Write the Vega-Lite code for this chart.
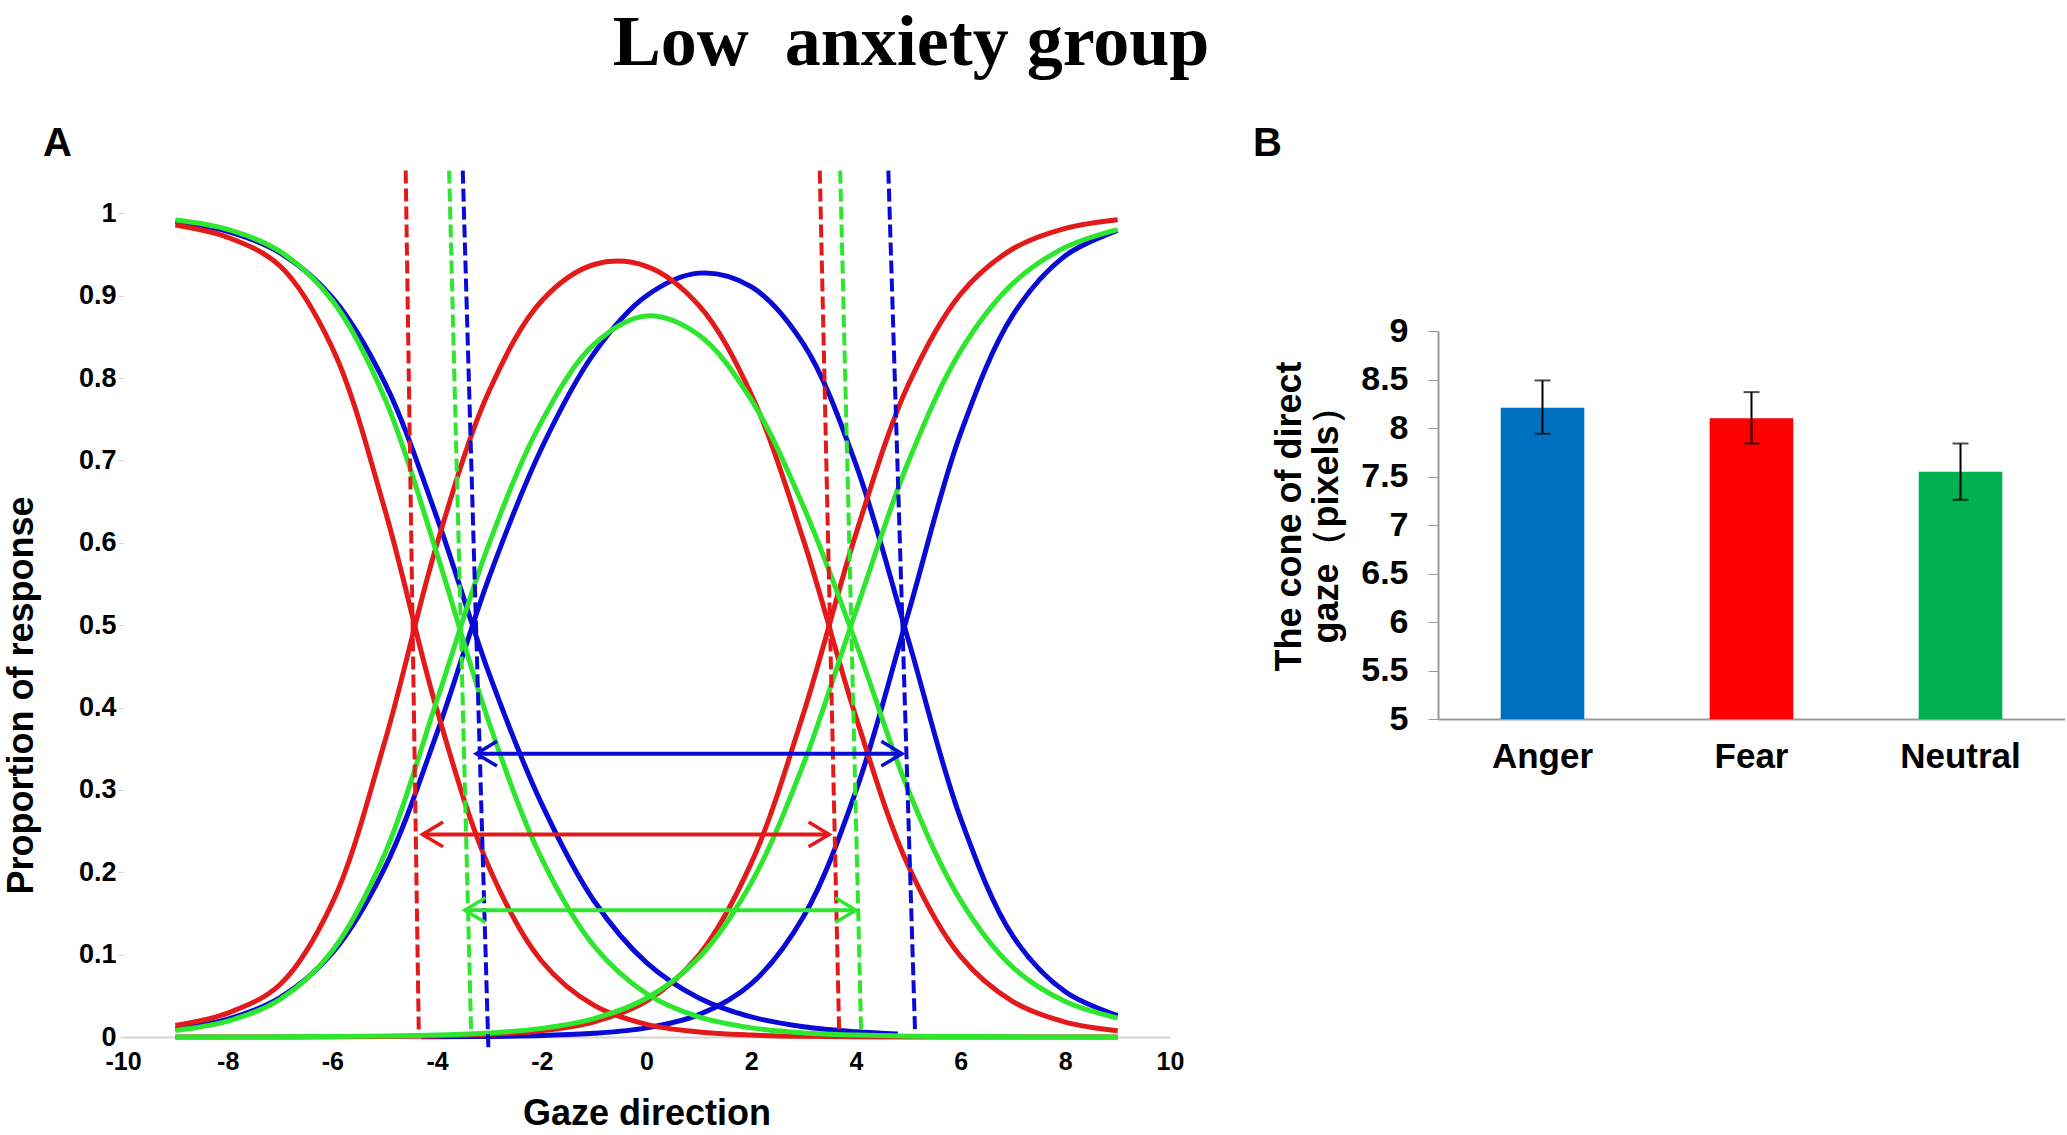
{
  "$schema": "https://vega.github.io/schema/vega-lite/v6.json",
  "background": "white",
  "padding": {"left": 3, "top": 7, "right": 0, "bottom": 0},
  "title": {"text": "Low\u00a0 anxiety group", "font": "Liberation Serif", "fontWeight": "bold", "fontSize": 72, "anchor": "middle", "dx": -123, "baseline": "alphabetic", "offset": -13, "color": "#000"},
  "config": {
    "view": {"stroke": null},
    "axis": {"grid": false, "labelFont": "Liberation Sans", "titleFont": "Liberation Sans", "labelFontWeight": "bold", "titleFontWeight": "bold", "labelColor": "#000", "titleColor": "#000"}
  },
  "resolve": {"scale": {"color": "independent"}},
  "spacing": 69,
  "datasets": {
    "curves": [
      {"e":"Anger","c":"AL","x":-9,"y":0.9903},{"e":"Anger","c":"AL","x":-8,"y":0.9783},{"e":"Anger","c":"AL","x":-7,"y":0.9522},{"e":"Anger","c":"AL","x":-6,"y":0.8978},{"e":"Anger","c":"AL","x":-5,"y":0.7945},{"e":"Anger","c":"AL","x":-4,"y":0.6301},{"e":"Anger","c":"AL","x":-3,"y":0.44},{"e":"Anger","c":"AL","x":-2,"y":0.2827},{"e":"Anger","c":"AL","x":-1,"y":0.1651},{"e":"Anger","c":"AL","x":0,"y":0.0903},{"e":"Anger","c":"AL","x":1,"y":0.0474},{"e":"Anger","c":"AL","x":2,"y":0.0244},{"e":"Anger","c":"AL","x":3,"y":0.0124},{"e":"Anger","c":"AL","x":4,"y":0.0063},{"e":"Anger","c":"AL","x":4.8,"y":0.0036},
      {"e":"Anger","c":"AR","x":-4.3,"y":0.0002},{"e":"Anger","c":"AR","x":-4,"y":0.0003},{"e":"Anger","c":"AR","x":-3,"y":0.0007},{"e":"Anger","c":"AR","x":-2,"y":0.0018},{"e":"Anger","c":"AR","x":-1,"y":0.0045},{"e":"Anger","c":"AR","x":0,"y":0.0111},{"e":"Anger","c":"AR","x":1,"y":0.0271},{"e":"Anger","c":"AR","x":2,"y":0.0646},{"e":"Anger","c":"AR","x":3,"y":0.1463},{"e":"Anger","c":"AR","x":4,"y":0.2985},{"e":"Anger","c":"AR","x":5,"y":0.5143},{"e":"Anger","c":"AR","x":6,"y":0.7329},{"e":"Anger","c":"AR","x":7,"y":0.8767},{"e":"Anger","c":"AR","x":8,"y":0.9486},{"e":"Anger","c":"AR","x":9,"y":0.9795},
      {"e":"Anger","c":"AD","x":-9,"y":0.0097},{"e":"Anger","c":"AD","x":-8,"y":0.0217},{"e":"Anger","c":"AD","x":-7,"y":0.0478},{"e":"Anger","c":"AD","x":-6,"y":0.1021},{"e":"Anger","c":"AD","x":-5,"y":0.2054},{"e":"Anger","c":"AD","x":-4,"y":0.3696},{"e":"Anger","c":"AD","x":-3,"y":0.5593},{"e":"Anger","c":"AD","x":-2,"y":0.7155},{"e":"Anger","c":"AD","x":-1,"y":0.8304},{"e":"Anger","c":"AD","x":0,"y":0.9},{"e":"Anger","c":"AD","x":1,"y":0.9275},{"e":"Anger","c":"AD","x":2,"y":0.911},{"e":"Anger","c":"AD","x":3,"y":0.8413},{"e":"Anger","c":"AD","x":4,"y":0.6952},{"e":"Anger","c":"AD","x":5,"y":0.4825},{"e":"Anger","c":"AD","x":6,"y":0.2655},{"e":"Anger","c":"AD","x":7,"y":0.1225},{"e":"Anger","c":"AD","x":8,"y":0.055},{"e":"Anger","c":"AD","x":9,"y":0.026},
      {"e":"Fear","c":"FL","x":-9,"y":0.986},{"e":"Fear","c":"FL","x":-8,"y":0.971},{"e":"Fear","c":"FL","x":-7,"y":0.9361},{"e":"Fear","c":"FL","x":-6,"y":0.8365},{"e":"Fear","c":"FL","x":-5,"y":0.6408},{"e":"Fear","c":"FL","x":-4,"y":0.3964},{"e":"Fear","c":"FL","x":-3,"y":0.205},{"e":"Fear","c":"FL","x":-2,"y":0.092},{"e":"Fear","c":"FL","x":-1,"y":0.0383},{"e":"Fear","c":"FL","x":0,"y":0.0154},{"e":"Fear","c":"FL","x":1,"y":0.0061},{"e":"Fear","c":"FL","x":2,"y":0.0024},{"e":"Fear","c":"FL","x":3,"y":0.0009},{"e":"Fear","c":"FL","x":4,"y":0.0004},{"e":"Fear","c":"FL","x":5,"y":0.0001},{"e":"Fear","c":"FL","x":6,"y":0},{"e":"Fear","c":"FL","x":7,"y":0},{"e":"Fear","c":"FL","x":8,"y":0},{"e":"Fear","c":"FL","x":9,"y":0},
      {"e":"Fear","c":"FR","x":-9,"y":0},{"e":"Fear","c":"FR","x":-8,"y":0},{"e":"Fear","c":"FR","x":-7,"y":0.0001},{"e":"Fear","c":"FR","x":-6,"y":0.0002},{"e":"Fear","c":"FR","x":-5,"y":0.0005},{"e":"Fear","c":"FR","x":-4,"y":0.0013},{"e":"Fear","c":"FR","x":-3,"y":0.0032},{"e":"Fear","c":"FR","x":-2,"y":0.0077},{"e":"Fear","c":"FR","x":-1,"y":0.0185},{"e":"Fear","c":"FR","x":0,"y":0.0436},{"e":"Fear","c":"FR","x":1,"y":0.0994},{"e":"Fear","c":"FR","x":2,"y":0.2111},{"e":"Fear","c":"FR","x":3,"y":0.3932},{"e":"Fear","c":"FR","x":4,"y":0.6109},{"e":"Fear","c":"FR","x":5,"y":0.7919},{"e":"Fear","c":"FR","x":6,"y":0.9021},{"e":"Fear","c":"FR","x":7,"y":0.9571},{"e":"Fear","c":"FR","x":8,"y":0.9819},{"e":"Fear","c":"FR","x":9,"y":0.9924},
      {"e":"Fear","c":"FD","x":-9,"y":0.014},{"e":"Fear","c":"FD","x":-8,"y":0.029},{"e":"Fear","c":"FD","x":-7,"y":0.0638},{"e":"Fear","c":"FD","x":-6,"y":0.1632},{"e":"Fear","c":"FD","x":-5,"y":0.3585},{"e":"Fear","c":"FD","x":-4,"y":0.5993},{"e":"Fear","c":"FD","x":-3,"y":0.7852},{"e":"Fear","c":"FD","x":-2,"y":0.894},{"e":"Fear","c":"FD","x":-1,"y":0.938},{"e":"Fear","c":"FD","x":0,"y":0.9358},{"e":"Fear","c":"FD","x":1,"y":0.8884},{"e":"Fear","c":"FD","x":2,"y":0.7804},{"e":"Fear","c":"FD","x":3,"y":0.603},{"e":"Fear","c":"FD","x":4,"y":0.3887},{"e":"Fear","c":"FD","x":5,"y":0.2079},{"e":"Fear","c":"FD","x":6,"y":0.0978},{"e":"Fear","c":"FD","x":7,"y":0.0429},{"e":"Fear","c":"FD","x":8,"y":0.0181},{"e":"Fear","c":"FD","x":9,"y":0.0076},
      {"e":"Neutral","c":"NL","x":-9,"y":0.9919},{"e":"Neutral","c":"NL","x":-8,"y":0.9805},{"e":"Neutral","c":"NL","x":-7,"y":0.9538},{"e":"Neutral","c":"NL","x":-6,"y":0.8941},{"e":"Neutral","c":"NL","x":-5,"y":0.7757},{"e":"Neutral","c":"NL","x":-4,"y":0.5862},{"e":"Neutral","c":"NL","x":-3,"y":0.3804},{"e":"Neutral","c":"NL","x":-2,"y":0.2162},{"e":"Neutral","c":"NL","x":-1,"y":0.1103},{"e":"Neutral","c":"NL","x":0,"y":0.0527},{"e":"Neutral","c":"NL","x":1,"y":0.0244},{"e":"Neutral","c":"NL","x":2,"y":0.0111},{"e":"Neutral","c":"NL","x":3,"y":0.005},{"e":"Neutral","c":"NL","x":4,"y":0.0023},{"e":"Neutral","c":"NL","x":5,"y":0.001},{"e":"Neutral","c":"NL","x":6,"y":0.0005},{"e":"Neutral","c":"NL","x":7,"y":0.0002},{"e":"Neutral","c":"NL","x":8,"y":0.0001},{"e":"Neutral","c":"NL","x":9,"y":0},
      {"e":"Neutral","c":"NR","x":-9,"y":0},{"e":"Neutral","c":"NR","x":-8,"y":0.0001},{"e":"Neutral","c":"NR","x":-7,"y":0.0002},{"e":"Neutral","c":"NR","x":-6,"y":0.0005},{"e":"Neutral","c":"NR","x":-5,"y":0.0011},{"e":"Neutral","c":"NR","x":-4,"y":0.0023},{"e":"Neutral","c":"NR","x":-3,"y":0.0049},{"e":"Neutral","c":"NR","x":-2,"y":0.0105},{"e":"Neutral","c":"NR","x":-1,"y":0.0224},{"e":"Neutral","c":"NR","x":0,"y":0.0471},{"e":"Neutral","c":"NR","x":1,"y":0.0963},{"e":"Neutral","c":"NR","x":2,"y":0.1871},{"e":"Neutral","c":"NR","x":3,"y":0.3318},{"e":"Neutral","c":"NR","x":4,"y":0.5173},{"e":"Neutral","c":"NR","x":5,"y":0.6981},{"e":"Neutral","c":"NR","x":6,"y":0.8331},{"e":"Neutral","c":"NR","x":7,"y":0.915},{"e":"Neutral","c":"NR","x":8,"y":0.9588},{"e":"Neutral","c":"NR","x":9,"y":0.9804},
      {"e":"Neutral","c":"ND","x":-9,"y":0.008},{"e":"Neutral","c":"ND","x":-8,"y":0.0192},{"e":"Neutral","c":"ND","x":-7,"y":0.0457},{"e":"Neutral","c":"ND","x":-6,"y":0.1048},{"e":"Neutral","c":"ND","x":-5,"y":0.2222},{"e":"Neutral","c":"ND","x":-4,"y":0.4095},{"e":"Neutral","c":"ND","x":-3,"y":0.6003},{"e":"Neutral","c":"ND","x":-2,"y":0.7478},{"e":"Neutral","c":"ND","x":-1,"y":0.8412},{"e":"Neutral","c":"ND","x":0,"y":0.8755},{"e":"Neutral","c":"ND","x":1,"y":0.8523},{"e":"Neutral","c":"ND","x":2,"y":0.7738},{"e":"Neutral","c":"ND","x":3,"y":0.6438},{"e":"Neutral","c":"ND","x":4,"y":0.4787},{"e":"Neutral","c":"ND","x":5,"y":0.2999},{"e":"Neutral","c":"ND","x":6,"y":0.1659},{"e":"Neutral","c":"ND","x":7,"y":0.0845},{"e":"Neutral","c":"ND","x":8,"y":0.043},{"e":"Neutral","c":"ND","x":9,"y":0.023}
    ],
    "bounds": [
      {"e":"Fear","x":-4.6,"xb":-4.35,"y":1.052,"yb":0.006},
      {"e":"Fear","x":3.31,"xb":3.68,"y":1.052,"yb":0.006},
      {"e":"Neutral","x":-3.77,"xb":-3.35,"y":1.052,"yb":0.006},
      {"e":"Neutral","x":3.7,"xb":4.1,"y":1.052,"yb":0.006},
      {"e":"Anger","x":-3.51,"xb":-3.02,"y":1.052,"yb":-0.015},
      {"e":"Anger","x":4.62,"xb":5.13,"y":1.052,"yb":0.006}
    ],
    "arrows": [
      {"e":"Anger","x":-3.25,"xe":4.88,"y":0.344},
      {"e":"Fear","x":-4.28,"xe":3.49,"y":0.246},
      {"e":"Neutral","x":-3.47,"xe":4.0,"y":0.154}
    ],
    "heads": [
      {"e":"Anger","s":"l","x":-3.25,"y":0.344},{"e":"Anger","s":"r","x":4.88,"y":0.344},
      {"e":"Fear","s":"l","x":-4.28,"y":0.246},{"e":"Fear","s":"r","x":3.49,"y":0.246},
      {"e":"Neutral","s":"l","x":-3.47,"y":0.154},{"e":"Neutral","s":"r","x":4.0,"y":0.154}
    ],
    "bars": [
      {"cond":"Anger","m":8.21,"lo":7.94,"hi":8.49},
      {"cond":"Fear","m":8.1,"lo":7.84,"hi":8.37},
      {"cond":"Neutral","m":7.55,"lo":7.26,"hi":7.84}
    ]
  },
  "hconcat": [
    {
      "width": 1047,
      "height": 873,
      "title": {"text": "A", "anchor": "start", "frame": "group", "dx": -80, "fontSize": 40, "fontWeight": "bold", "font": "Liberation Sans", "baseline": "alphabetic", "offset": -32, "color": "#000"},
      "layer": [
        {
          "data": {"name": "curves"},
          "mark": {"type": "line", "interpolate": "catmull-rom"},
          "encoding": {
            "x": {"field": "x", "type": "quantitative", "title": "Gaze direction", "scale": {"domain": [-10, 10], "nice": false},
                  "axis": {"values": [-10,-8,-6,-4,-2,0,2,4,6,8,10], "labelExpr": "'' + datum.value", "labelFontSize": 25, "labelFlush": false, "labelOverlap": false, "domainColor": "#d4d4d4", "domainWidth": 2, "ticks": false, "labelPadding": 12, "titleFontSize": 36, "titlePadding": 22}},
            "y": {"field": "y", "type": "quantitative", "title": "Proportion of response", "scale": {"domain": [0, 1.06], "nice": false, "zero": false},
                  "axis": {"values": [0,0.1,0.2,0.3,0.4,0.5,0.6,0.7,0.8,0.9,1], "labelExpr": "'' + datum.value", "labelFontSize": 27, "domain": false, "ticks": true, "tickColor": "#d0d0d0", "tickSize": 5, "labelPadding": 2, "titleFontSize": 36, "titleX": -102, "titleY": 531, "titleBaseline": "middle", "titleAlign": "center", "titleAngle": -90}},
            "color": {"field": "e", "type": "nominal", "scale": {"domain": ["Anger","Fear","Neutral"], "range": ["#0a0ad6","#e21a1a","#2ee62e"]}, "legend": null},
            "strokeWidth": {"field": "e", "type": "ordinal", "scale": {"domain": ["Anger","Fear","Neutral"], "range": [5, 5, 6]}, "legend": null},
            "detail": {"field": "c", "type": "nominal"}
          }
        },
        {
          "data": {"name": "bounds"},
          "mark": {"type": "rule", "strokeDash": [13, 5], "strokeWidth": 4},
          "encoding": {
            "x": {"field": "x", "type": "quantitative", "title": "Gaze direction"},
            "x2": {"field": "xb"},
            "y": {"field": "y", "type": "quantitative", "title": "Proportion of response"},
            "y2": {"field": "yb"},
            "color": {"field": "e", "type": "nominal", "legend": null}
          }
        },
        {
          "data": {"name": "arrows"},
          "mark": {"type": "rule", "strokeWidth": 4},
          "encoding": {
            "x": {"field": "x", "type": "quantitative", "title": "Gaze direction"},
            "x2": {"field": "xe"},
            "y": {"field": "y", "type": "quantitative", "title": "Proportion of response"},
            "color": {"field": "e", "type": "nominal", "legend": null}
          }
        },
        {
          "data": {"name": "heads"},
          "mark": {"type": "point", "filled": false, "size": 1700, "strokeWidth": 3.5, "opacity": 1},
          "encoding": {
            "x": {"field": "x", "type": "quantitative", "title": "Gaze direction"},
            "y": {"field": "y", "type": "quantitative", "title": "Proportion of response"},
            "color": {"field": "e", "type": "nominal", "legend": null},
            "shape": {"field": "s", "type": "nominal", "scale": {"domain": ["l", "r"], "range": ["M 1 -0.6 L 0 0 L 1 0.6", "M -1 -0.6 L 0 0 L -1 0.6"]}, "legend": null}
          }
        }
      ]
    },
    {
      "spacing": 0,
      "vconcat": [
        {
          "width": 627,
          "height": 150,
          "title": {"text": "B", "anchor": "start", "frame": "group", "dx": -185, "fontSize": 40, "fontWeight": "bold", "font": "Liberation Sans", "baseline": "alphabetic", "offset": -32, "color": "#000"},
          "data": {"values": []},
          "mark": {"type": "text"},
          "encoding": {}
        },
        {
          "width": 627,
          "height": 388,
          "data": {"name": "bars"},
          "layer": [
            {
              "mark": {"type": "bar"},
              "encoding": {
                "x": {"field": "cond", "type": "nominal", "sort": ["Anger","Fear","Neutral"], "title": null, "scale": {"paddingInner": 0.6, "paddingOuter": 0.3},
                      "axis": {"labelFontSize": 35, "labelPadding": 20, "ticks": false, "domainColor": "#999999", "domainWidth": 2, "labelAngle": 0}},
                "y": {"field": "m", "type": "quantitative", "title": ["The cone of direct", "gaze（pixels）"], "scale": {"domain": [5, 9], "nice": false, "zero": false},
                      "axis": {"values": [5,5.5,6,6.5,7,7.5,8,8.5,9], "labelExpr": "'' + datum.value", "labelFontSize": 34, "tickSize": 10, "tickColor": "#999999", "domainColor": "#999999", "domainWidth": 2, "labelPadding": 20, "titleFontSize": 36, "titleLineHeight": 37, "titleX": -166, "titleY": 185, "titleBaseline": "top", "titleAlign": "center", "titleAngle": -90}},
                "y2": {"datum": 5},
                "color": {"field": "cond", "type": "nominal", "scale": {"domain": ["Anger","Fear","Neutral"], "range": ["#0070C0","#FF0000","#00B050"]}, "legend": null}
              }
            },
            {
              "mark": {"type": "rule", "color": "#000", "strokeWidth": 2},
              "encoding": {
                "x": {"field": "cond", "type": "nominal", "sort": ["Anger","Fear","Neutral"], "title": null},
                "y": {"field": "lo", "type": "quantitative", "title": ["The cone of direct", "gaze（pixels）"]},
                "y2": {"field": "hi"}
              }
            },
            {
              "mark": {"type": "tick", "color": "#000", "size": 16, "thickness": 2},
              "encoding": {
                "x": {"field": "cond", "type": "nominal", "sort": ["Anger","Fear","Neutral"], "title": null},
                "y": {"field": "lo", "type": "quantitative", "title": ["The cone of direct", "gaze（pixels）"]}
              }
            },
            {
              "mark": {"type": "tick", "color": "#000", "size": 16, "thickness": 2},
              "encoding": {
                "x": {"field": "cond", "type": "nominal", "sort": ["Anger","Fear","Neutral"], "title": null},
                "y": {"field": "hi", "type": "quantitative", "title": ["The cone of direct", "gaze（pixels）"]}
              }
            }
          ]
        }
      ]
    }
  ]
}
